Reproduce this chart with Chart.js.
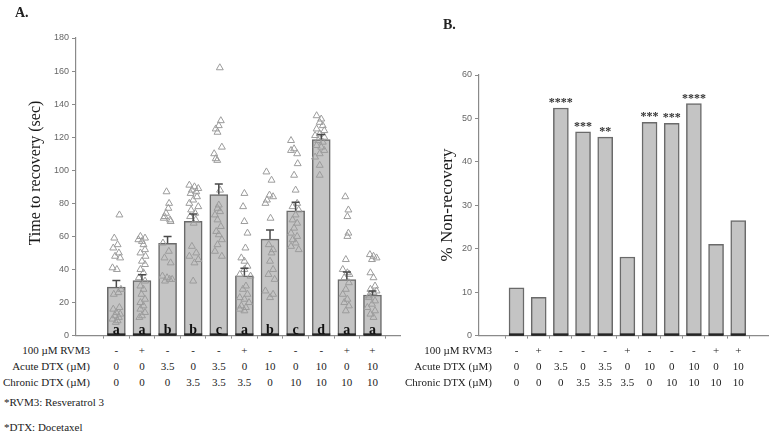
<!DOCTYPE html>
<html>
<head>
<meta charset="utf-8">
<script src="https://cdn.jsdelivr.net/npm/chart.js@4.4.1/dist/chart.umd.min.js"></script>
<style>
    body { margin: 0; background: #fff; }
    #wrap { position: relative; width: 774px; height: 437px; overflow: hidden; font-family: "Liberation Serif", "Times New Roman", serif; color: #222; }
    canvas { position: absolute; top: 0; }
    .txt { position: absolute; white-space: nowrap; font-size: 11px; line-height: 12px; }
    .val { transform: translateX(-50%); }
    .lbl { transform: translateX(-100%); }
    .ytitle { position: absolute; white-space: nowrap; transform: translate(-50%, -50%) rotate(-90deg); color: #1a1a1a; }
    .panel { position: absolute; font-weight: bold; font-size: 14px; }
</style>
</head>
<body>
<div id="wrap">
    <canvas id="chartA" width="405" height="344" style="left:0"></canvas>
    <canvas id="chartB" width="374" height="344" style="left:400px"></canvas>
    <div class="panel" style="left:15px;top:5px">A.</div>
    <div class="panel" style="left:443px;top:17px">B.</div>
    <div class="ytitle" style="left:35px;top:173px;font-size:16px">Time to recovery (sec)</div>
    <div class="ytitle" style="left:447px;top:205px;font-size:17px">% Non-recovery</div>
    <div class="txt" style="left:4px;top:396px">*RVM3: Resveratrol 3</div>
    <div class="txt" style="left:4px;top:421px">*DTX: Docetaxel</div>
</div>
<script>
    // conditions (same for both panels)
    const rowLabels = ['100 \u00b5M RVM3', 'Acute DTX (\u00b5M)', 'Chronic DTX (\u00b5M)'];
    const rvm3 = ['-', '+', '-', '-', '-', '+', '-', '-', '-', '+', '+'];
    const acuteDtx = ['0', '0', '3.5', '0', '3.5', '0', '10', '0', '10', '0', '10'];
    const chronicDtx = ['0', '0', '0', '3.5', '3.5', '3.5', '0', '10', '10', '10', '10'];

    // panel A: time to recovery
    const recoveryMean = [29.3, 33.3, 55.8, 69.1, 85.3, 36.2, 58.4, 75.5, 118.6, 33.9, 24.5];
    const recoverySem = [4, 3.5, 4.2, 4.5, 6.4, 4.5, 5.4, 5.2, 3, 4.5, 2.5];
    const letters = ['a', 'a', 'b', 'b', 'c', 'a', 'b', 'c', 'd', 'a', 'a'];
    // individual animals: [horizontal jitter, seconds]
    const recoveryPoints = [
        [[0.12,73],[-0.08,59],[0.05,55],[-0.12,53],[0.1,50],[-0.05,48],[0.15,47],[-0.15,41],[0.02,40],[0.18,28],[0.08,26],[-0.1,25],[0.12,17],[-0.12,16],[0.0,14],[0.15,13],[-0.05,12],[0.1,11],[-0.15,10],[0.05,9],[-0.02,8]],
        [[-0.06,60],[0.12,59],[-0.14,58],[0.0,57],[0.06,55],[0.12,52],[-0.06,50],[0.14,48],[0.0,45],[0.12,43],[-0.06,40],[0.06,38],[-0.12,35],[0.12,33],[-0.06,30],[0.06,28],[-0.02,25],[0.12,22],[-0.06,20],[0.06,18],[-0.06,16],[0.12,14],[0.0,12],[-0.1,11]],
        [[-0.04,87],[0.06,80],[0.03,77],[-0.06,74],[-0.12,72],[0.1,70],[-0.15,71],[0.12,69],[-0.18,56],[0.05,51],[-0.12,47],[0.12,44],[-0.2,36],[-0.02,35],[0.18,34],[-0.1,33],[0.08,34]],
        [[-0.15,91],[0.05,90],[0.2,89],[-0.05,88],[0.12,87],[-0.1,86],[0.15,84],[0.0,82],[-0.15,80],[0.2,78],[-0.08,76],[0.08,74],[-0.12,72],[0.1,70],[0.02,68],[-0.05,54],[0.12,50],[-0.15,48],[0.2,46],[0.05,44],[0.0,33]],
        [[0.04,162],[0.08,130],[0.0,127],[-0.12,125],[-0.05,123],[0.12,114],[-0.18,110],[-0.12,107],[-0.06,106],[0.05,88],[0.0,79],[-0.05,77],[0.05,75],[-0.15,73],[-0.05,70],[0.08,66],[-0.1,63],[0.0,61],[0.12,58],[-0.05,55],[-0.15,51],[0.12,48]],
        [[0.0,86],[-0.05,78],[0.0,69],[0.12,62],[0.04,53],[-0.12,47],[0.0,45],[0.12,42],[0.0,40],[-0.18,37],[0.24,36],[0.06,30],[-0.06,28],[0.12,25],[-0.18,23],[0.0,22],[0.18,20],[-0.12,18],[0.06,17],[-0.18,16],[0.0,15]],
        [[-0.14,99],[0.06,94],[-0.02,85],[0.12,84],[-0.12,82],[-0.18,80],[0.02,71],[-0.05,55],[0.12,52],[0.06,50],[0.0,45],[0.12,40],[-0.06,37],[0.18,34],[-0.18,27],[0.12,25],[0.0,23]],
        [[-0.18,118],[-0.06,113],[-0.18,112],[0.06,110],[0.08,104],[-0.06,97],[0.0,88],[0.06,80],[-0.12,78],[0.12,76],[0.0,73],[-0.12,70],[0.06,68],[-0.06,65],[-0.18,62],[0.06,60],[-0.12,58],[0.0,56],[-0.18,54],[0.12,52]],
        [[-0.18,133],[0.0,131],[-0.06,129],[0.06,127],[-0.18,125],[0.12,124],[-0.06,122],[-0.24,121],[0.12,120],[-0.12,118],[0.06,117],[-0.18,115],[0.0,114],[0.12,112],[-0.06,110],[-0.24,108],[-0.06,103],[-0.06,97]],
        [[-0.06,84],[0.06,76],[0.02,72],[0.06,62],[0.02,60],[-0.04,46],[-0.16,40],[0.02,38],[-0.1,35],[0.08,32],[-0.04,28],[-0.16,25],[0.02,22],[-0.1,20],[0.08,18],[-0.04,15],[0.1,37]],
        [[-0.1,49],[0.04,48],[0.16,47],[-0.02,46],[-0.08,38],[0.04,35],[0.1,30],[-0.08,28],[0.04,26],[-0.14,23],[0.1,21],[-0.02,19],[-0.2,17],[0.1,15],[-0.08,13],[0.04,11],[-0.14,24],[0.16,27]]
    ];
    const recoveryTicks = [0, 20, 40, 60, 80, 100, 120, 140, 160, 180];

    // panel B: % non-recovery
    const nonRecovery = [11, 8.8, 52.4, 46.9, 45.7, 18.1, 49.1, 48.9, 53.4, 21, 26.5];
    const stars = ['', '', '****', '***', '**', '', '***', '***', '****', '', ''];
    const nonRecoveryTicks = [0, 10, 20, 30, 40, 50, 60];

    const BAR_FILL = '#c4c4c4';
    const BAR_EDGE = '#6a6a6a';
    const AXIS = '#8a8a8a';
    const TICK_FONT = { family: '"Liberation Sans", Arial, sans-serif', size: 9 };

    function barBase(chart) {
        // darker foot under each bar
        const ctx = chart.ctx;
        const base = chart.scales.y.getPixelForValue(0);
        ctx.save();
        ctx.strokeStyle = '#262626';
        ctx.lineWidth = 2.5;
        chart.getDatasetMeta(0).data.forEach(function(bar) {
            ctx.beginPath();
            ctx.moveTo(bar.x - bar.width / 2, base - 1);
            ctx.lineTo(bar.x + bar.width / 2, base - 1);
            ctx.stroke();
        });
        ctx.restore();
    }

    const panelAExtras = {
        id: 'panelAExtras',
        afterDatasetsDraw(chart) {
            const { ctx, scales: { x, y } } = chart;
            barBase(chart);
            ctx.save();
            recoveryMean.forEach(function(m, i) {
                const px = x.getPixelForValue(i);
                const top = y.getPixelForValue(m);
                const cap = y.getPixelForValue(m + recoverySem[i]);
                ctx.strokeStyle = '#4a4a4a';
                ctx.lineWidth = 1.5;
                ctx.beginPath();
                ctx.moveTo(px, top);
                ctx.lineTo(px, cap);
                ctx.moveTo(px - 4, cap);
                ctx.lineTo(px + 4, cap);
                ctx.stroke();

                ctx.fillStyle = '#111';
                ctx.font = 'bold 14px "Liberation Serif", serif';
                ctx.textAlign = 'center';
                ctx.textBaseline = 'alphabetic';
                ctx.fillText(letters[i], px, y.getPixelForValue(0) - 2);
            });
            ctx.restore();
        }
    };

    const panelBExtras = {
        id: 'panelBExtras',
        afterDatasetsDraw(chart) {
            const { ctx, scales: { x, y } } = chart;
            barBase(chart);
            ctx.save();
            ctx.fillStyle = '#333';
            ctx.font = 'bold 12px "Liberation Serif", serif';
            ctx.textAlign = 'center';
            ctx.textBaseline = 'alphabetic';
            nonRecovery.forEach(function(v, i) {
                if (stars[i]) ctx.fillText(stars[i], x.getPixelForValue(i), y.getPixelForValue(v) - 2);
            });
            ctx.restore();
        }
    };

    function xScale(min, max) {
        return {
            type: 'linear',
            min: min,
            max: max,
            afterBuildTicks: function(s) { s.ticks = rvm3.map(function(_, i) { return { value: i }; }); },
            ticks: { display: false },
            grid: { drawOnChartArea: false, tickLength: 3, color: AXIS },
            border: { color: AXIS, width: 1.2 },
            afterFit: function(s) { s.height = 6; }
        };
    }

    function yScale(max, tickValues) {
        return {
            min: 0,
            max: max,
            afterBuildTicks: function(s) { s.ticks = tickValues.map(function(v) { return { value: v }; }); },
            ticks: { font: TICK_FONT, color: '#666', padding: 3 },
            grid: { drawOnChartArea: false, tickLength: 4, color: AXIS },
            border: { color: AXIS, width: 1.2 },
            afterFit: function(s) { s.width = 40; }
        };
    }

    const chartA = new Chart(document.getElementById('chartA'), {
        type: 'bar',
        data: {
            datasets: [{
                type: 'bar',
                data: recoveryMean.map(function(v, i) { return { x: i, y: v }; }),
                backgroundColor: BAR_FILL,
                borderColor: BAR_EDGE,
                borderWidth: 1.5,
                borderSkipped: false,
                barThickness: 18,
                order: 2
            }, {
                type: 'scatter',
                data: recoveryPoints.flatMap(function(g, i) {
                    return g.map(function(p) { return { x: i + p[0], y: p[1] }; });
                }),
                pointStyle: 'triangle',
                pointRadius: 4,
                borderColor: '#9c9c9c',
                backgroundColor: 'rgba(255,255,255,0)',
                borderWidth: 1,
                order: 1
            }]
        },
        options: {
            responsive: false,
            animation: false,
            layout: { padding: { left: 36, right: 5, top: 38, bottom: 0 } },
            plugins: { legend: { display: false }, tooltip: { enabled: false } },
            scales: { x: xScale(-1, 10.5), y: yScale(180, recoveryTicks) }
        },
        plugins: [panelAExtras]
    });

    const chartB = new Chart(document.getElementById('chartB'), {
        type: 'bar',
        data: {
            datasets: [{
                data: nonRecovery.map(function(v, i) { return { x: i, y: v }; }),
                backgroundColor: BAR_FILL,
                borderColor: BAR_EDGE,
                borderWidth: 1.5,
                borderSkipped: false,
                barThickness: 15
            }]
        },
        options: {
            responsive: false,
            animation: false,
            layout: { padding: { left: 39, right: 6, top: 75, bottom: 0 } },
            plugins: { legend: { display: false }, tooltip: { enabled: false } },
            scales: { x: xScale(-1.1, 10.75), y: yScale(60, nonRecoveryTicks) }
        },
        plugins: [panelBExtras]
    });

    // condition table under each panel, columns follow the bar positions
    function addTable(chart, offsetX, labelRight) {
        const wrap = document.getElementById('wrap');
        const rows = [rvm3, acuteDtx, chronicDtx];
        const rowTops = [344, 360, 376];
        rows.forEach(function(row, r) {
            const lbl = document.createElement('div');
            lbl.className = 'txt lbl';
            lbl.style.left = labelRight + 'px';
            lbl.style.top = rowTops[r] + 'px';
            lbl.textContent = rowLabels[r];
            wrap.appendChild(lbl);
            row.forEach(function(v, i) {
                const el = document.createElement('div');
                el.className = 'txt val';
                el.style.left = (offsetX + chart.scales.x.getPixelForValue(i)) + 'px';
                el.style.top = rowTops[r] + 'px';
                el.textContent = v;
                wrap.appendChild(el);
            });
        });
    }
    addTable(chartA, 0, 90);
    addTable(chartB, 400, 492);
</script>
</body>
</html>
